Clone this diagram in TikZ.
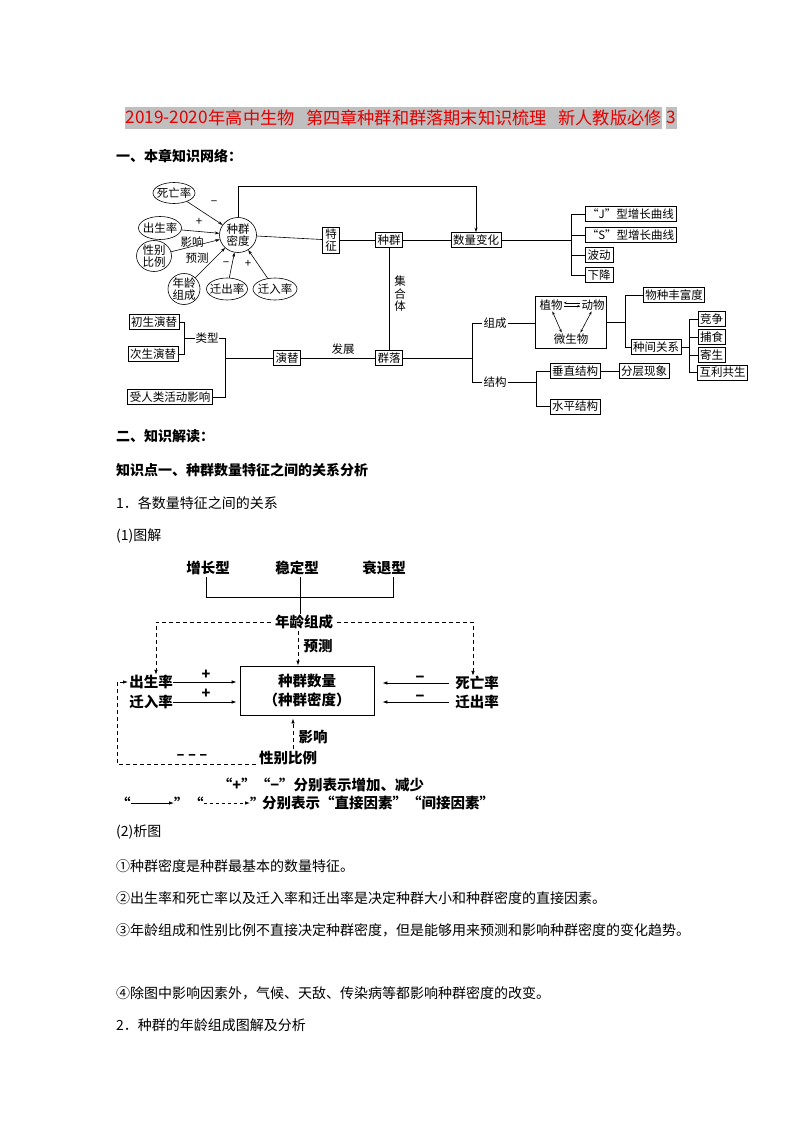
\documentclass[tikz,border=0pt]{standalone}
\usepackage{fontspec}
\setmainfont{Noto Sans CJK SC}
\usetikzlibrary{shapes.geometric,arrows.meta}
\definecolor{tred}{RGB}{228,0,0}
\begin{document}
\begin{tikzpicture}[x=1pt,y=-1pt,
 every node/.style={inner sep=0pt},
 every label/.style={inner sep=0pt,align=center,font=\fontsize{11.5}{12.5}\selectfont},
 ttl/.style={anchor=west,fill=black!25,text=tred,font=\fontsize{17.2}{18}\selectfont,inner xsep=0.5pt,minimum height=22pt},
 head/.style={anchor=west,font=\fontsize{14}{16}\selectfont\bfseries},
 body/.style={anchor=west,font=\fontsize{14}{16}\selectfont},
 sb/.style={draw,line width=0.6pt,font=\fontsize{11.5}{12.5}\selectfont,inner xsep=2pt,minimum height=15pt},
 el/.style={draw,ellipse,line width=0.6pt},
 lab/.style={font=\fontsize{11.5}{12.5}\selectfont,align=center},
 ln/.style={line width=0.6pt},
 ar/.style={line width=0.6pt,-{Stealth[length=4.5pt,width=3pt]}},
 dbl/.style={line width=0.6pt,{Stealth[length=3.5pt,width=2.5pt]}-{Stealth[length=3.5pt,width=2.5pt]}},
 d2/.style={font=\fontsize{14.5}{19}\selectfont,align=center},
 d2b/.style={font=\fontsize{14.5}{19}\selectfont\bfseries},
 ln2/.style={line width=0.8pt},
 ar2/.style={line width=0.8pt,-{Latex[length=5pt,width=3.5pt]}},
 dsh/.style={line width=0.8pt,dash pattern=on 4pt off 3pt},
 dar/.style={line width=0.8pt,dash pattern=on 4pt off 3pt,-{Latex[length=5pt,width=3.5pt]}},
]
\useasboundingbox[fill=white] (0,0) rectangle (800,1132);

% ---------- title ----------
\node[ttl,minimum width=79pt] (ti1) at (125,117.5) {2019-2020};
\node[ttl] (ti2) at (208,117.5) {\makebox[453pt]{年高中生物\hfill 第四章种群和群落期末知识梳理\hfill 新人教版必修}};
\node[ttl] (ti3) at (666,117.5) {3};

% ---------- headings and text ----------
\node[head] (h1) at (116,156) {一、本章知识网络：};
\node[head] (h2) at (116,436) {二、知识解读：};
\node[head] (h3) at (116,470) {知识点一、种群数量特征之间的关系分析};
\node[body] (p1) at (116,503) {1．各数量特征之间的关系};
\node[body] (p2) at (116,536) {(1)图解};
\node[body] (p3) at (116,832) {(2)析图};
\node[body] (p4) at (116,866) {①种群密度是种群最基本的数量特征。};
\node[body] (p5) at (116,898) {②出生率和死亡率以及迁入率和迁出率是决定种群大小和种群密度的直接因素。};
\node[body] (p6) at (116,930) {③年龄组成和性别比例不直接决定种群密度，但是能够用来预测和影响种群密度的变化趋势。};
\node[body] (p7) at (116,993) {④除图中影响因素外，气候、天敌、传染病等都影响种群密度的改变。};
\node[body] (p8) at (116,1025) {2．种群的年龄组成图解及分析};

% ---------- diagram 1 ----------
\node[el,minimum width=42pt,minimum height=21pt,label=center:{死亡率}] (sw) at (174,193) {};
\node[el,minimum width=43pt,minimum height=23pt,label=center:{出生率}] (cs) at (160,228) {};
\node[el,minimum width=35pt,minimum height=31pt,label=center:{性别\\比例}] (xb) at (154,256) {};
\node[el,minimum width=37pt,minimum height=35pt,label=center:{种群\\密度}] (md) at (238,235) {};
\node[el,minimum width=32pt,minimum height=31pt,label=center:{年龄\\组成}] (nl) at (184,289) {};
\node[el,minimum width=41pt,minimum height=22pt,label=center:{迁出率}] (qc) at (227,289) {};
\node[el,minimum width=44pt,minimum height=22pt,label=center:{迁入率}] (qr) at (275,289) {};

\draw[ar] (sw) -- (md);
\draw[ar] (cs) -- (md);
\draw[ar] (xb) -- (md);
\draw[ar] (nl) -- (md);
\draw[ar] (qc) -- (md);
\draw[ar] (qr) -- (md);
\node[lab] (l1) at (214,203) {−};
\node[lab] (l2) at (199,222) {+};
\node[lab] (l3) at (192,242) {影响};
\node[lab] (l4) at (197,258) {预测};
\node[lab] (l5) at (226,264) {−};
\node[lab] (l6) at (248,264) {+};

\node[sb,align=center,font=\fontsize{11.5}{12}\selectfont,inner xsep=2.5pt,minimum height=26pt] (tz) at (331,240) {特\\征};
\node[sb] (zq) at (389,240) {种群};
\node[sb] (sl) at (476,240) {数量变化};
\coordinate (tp) at (238,186);
\coordinate (tq) at (476,186);
\draw[ar] (md.north) -- (tp) -- (tq) -- (sl.north);
\draw[ln] (md) -- (tz);
\draw[ln] (tz) -- (zq);
\draw[ln] (zq) -- (sl);

\node[sb,minimum width=91pt] (J) at (630.5,214) {“J”型增长曲线};
\node[sb,minimum width=91pt] (S) at (630.5,235) {“S”型增长曲线};
\node[sb,minimum width=28pt] (bd) at (599,255) {波动};
\node[sb,minimum width=28pt] (xj) at (599,275) {下降};
\coordinate (b1) at (571,240);
\draw[ln] (sl) -- (b1);
\draw[ln] (J.west -| b1) -- (xj.west -| b1);
\foreach \n in {J,S,bd,xj} \draw[ln] (\n.west -| b1) -- (\n.west);

% lower left
\node[sb] (ct) at (154,322) {初生演替};
\node[sb] (cx) at (153,354) {次生演替};
\node[sb] (ry) at (170,397) {受人类活动影响};
\node[lab] (lx) at (207,338) {类型};
\coordinate (k1) at (184,338);
\coordinate (k2) at (225,338);
\draw[ln] (ct.east) -- (ct.east -| k1) -- (cx.east -| k1) -- (cx.east);
\draw[ln] (k1) -- (lx.west);
\draw[ln] (lx.east) -- (k2) -- (k2 |- ry.east) -- (ry.east);
\node[sb] (yt) at (287,358) {演替};
\node[sb] (ql) at (389,358) {群落};
\draw[ln] (k2 |- yt.west) -- (yt.west);
\draw[ln] (yt) -- (ql);
\node[lab] (fz) at (343,349) {发展};
\draw[ln] (zq) -- (ql);
\node[lab] (jh) at (400,294) {集\\合\\体};

% community
\coordinate (k3) at (472,358);
\node[lab,inner xsep=1pt] (cz) at (495,323) {组成};
\node[lab,inner xsep=1pt] (jg) at (495,382) {结构};
\draw[ln] (ql) -- (k3);
\draw[ln] (k3 |- cz.west) -- (k3 |- jg.west);
\draw[ln] (k3 |- cz.west) -- (cz.west);
\draw[ln] (k3 |- jg.west) -- (jg.west);
\node[draw,line width=0.6pt,minimum width=71pt,minimum height=52pt] (bx) at (570.5,322) {};
\draw[ln] (cz.east) -- (cz.east -| bx.west);
\node[lab] (zw) at (551,305) {植物};
\node[lab] (dw) at (593,305) {动物};
\node[lab] (ws) at (571,339) {微生物};
\draw[line width=0.6pt,-{Stealth[length=3pt,width=2.5pt]},shorten <=1pt,shorten >=1pt] ([yshift=2.2pt]dw.west) -- ([yshift=2.2pt]zw.east);
\draw[line width=0.6pt,-{Stealth[length=3pt,width=2.5pt]},shorten <=1pt,shorten >=1pt] ([yshift=-1.2pt]zw.east) -- ([yshift=-1.2pt]dw.west);
\draw[dbl,shorten <=1pt,shorten >=1pt] ([xshift=1pt]zw.south) -- ([xshift=-9pt]ws.north);
\draw[dbl,shorten <=1pt,shorten >=1pt] ([xshift=-1pt]dw.south) -- ([xshift=9pt]ws.north);

\node[sb] (fy) at (674,295) {物种丰富度};
\node[sb] (zj) at (656,347) {种间关系};
\coordinate (k5) at (625,322);
\draw[ln] (bx.east) -- (k5);
\draw[ln] (k5 |- fy.west) -- (k5 |- zj.west);
\draw[ln] (k5 |- fy.west) -- (fy.west);
\draw[ln] (k5 |- zj.west) -- (zj.west);
\node[sb,minimum width=27pt] (jz) at (711.5,319) {竞争};
\node[sb,minimum width=27pt] (bs) at (711.5,337) {捕食};
\node[sb,minimum width=27pt] (js) at (711.5,355) {寄生};
\node[sb] (hl) at (722.5,372.5) {互利共生};
\coordinate (k6) at (689,347);
\draw[ln] (zj.east) -- (k6);
\draw[ln] (k6 |- jz.west) -- (k6 |- hl.west);
\foreach \n in {jz,bs,js,hl} \draw[ln] (k6 |- \n.west) -- (\n.west);

\node[sb] (vs) at (575,371) {垂直结构};
\node[sb] (fc) at (644,371) {分层现象};
\node[sb] (hs) at (575,406.5) {水平结构};
\coordinate (k4) at (536,382);
\draw[ln] (jg.east) -- (k4);
\draw[ln] (k4 |- vs.west) -- (k4 |- hs.west);
\draw[ln] (k4 |- vs.west) -- (vs.west);
\draw[ln] (k4 |- hs.west) -- (hs.west);
\draw[ln] (vs) -- (fc);

% ---------- diagram 2 ----------
\node[d2b] (zz) at (208,568) {增长型};
\node[d2b] (wd) at (297,568) {稳定型};
\node[d2b] (st) at (384,568) {衰退型};
\node[d2b] (nl2) at (304,622) {年龄组成};
\coordinate (bl) at (206,597);
\coordinate (br) at (393,597);
\coordinate (m1) at (300,597);
\draw[ln2] ([yshift=-2pt]bl |- zz.south) -- (bl) -- (br) -- ([yshift=-2pt]br |- st.south);
\draw[ln2] ([yshift=-2pt]m1 |- wd.south) -- ([yshift=1pt]m1 |- nl2.north);

\node[draw,line width=0.8pt,minimum width=134pt,minimum height=49pt,d2,font=\fontsize{14.5}{19}\selectfont\bfseries] (bx2) at (307,690.5) {种群数量\\（种群密度）};
\node[d2b] (cs3) at (151,682) {出生率};
\node[d2b] (qr3) at (151,702) {迁入率};
\node[d2b] (sw3) at (477,683) {死亡率};
\node[d2b] (qc3) at (477,702) {迁出率};
\node[d2b] (xb3) at (288,758) {性别比例};

\coordinate (dl) at (156,622);
\coordinate (dr) at (473,622);
\draw[dar] ([xshift=-4pt]nl2.west) -- (dl) -- (dl |- cs3.north);
\draw[dar] ([xshift=4pt]nl2.east) -- (dr) -- (dr |- sw3.north);
\coordinate (px) at (298,640);
\draw[dar] ([yshift=-2pt]px |- nl2.south) -- (px |- bx2.north);
\node[d2b] (yc) at (318,646) {预测};

\draw[ar2,shorten >=3pt] (cs3.east) -- (cs3.east -| bx2.west);
\draw[ar2,shorten >=3pt] (qr3.east) -- (qr3.east -| bx2.west);
\node[d2b] (pl1) at (206,675) {+};
\node[d2b] (pl2) at (206,694) {+};
\draw[ar2,shorten <=6pt,shorten >=8pt] (sw3.west) -- (sw3.west -| bx2.east);
\draw[ar2,shorten <=6pt,shorten >=8pt] (qc3.west) -- (qc3.west -| bx2.east);
\node[d2b] (mi1) at (420,679) {−};
\node[d2b] (mi2) at (420,698) {−};

\coordinate (py) at (293,740);
\draw[dar,shorten <=2pt,shorten >=3pt] (py |- xb3.north) -- (py |- bx2.south);
\node[d2b] (yx) at (313,737) {影响};
\coordinate (lb) at (117,764);
\draw[dar] ([xshift=-3pt]xb3.west |- lb) -- (lb) -- (lb |- cs3.west) -- ([xshift=-1pt]cs3.west);
\node[d2b] (mmm) at (192,757) {– – –};

% legend
\node[d2b] (lg1) at (321,785) {“+”“−”分别表示增加、减少};
\node[d2b,anchor=west] (q1) at (116,803) {“};
\node[d2b,anchor=west] (q2) at (174,803) {”};
\node[d2b,anchor=west] (q3) at (189,803) {“};
\node[d2b,anchor=west] (q4) at (250,803) {”};
\draw[ar2] (q1.east) -- (q2.west);
\draw[dar,dash pattern=on 3pt off 3pt] (q3.east) -- (q4.west);
\node[d2b,anchor=west] (lg2) at (262,803) {分别表示“直接因素”“间接因素”};
\end{tikzpicture}
\end{document}
